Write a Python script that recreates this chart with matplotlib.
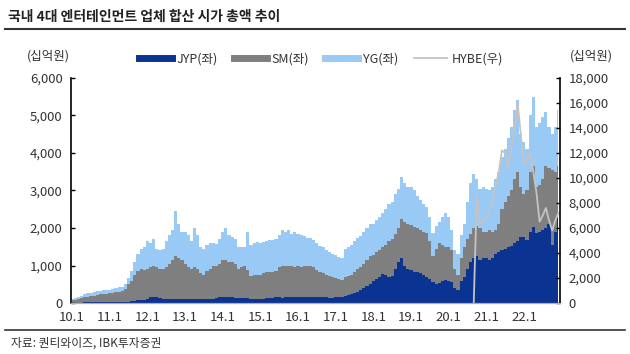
import numpy as np
import matplotlib
matplotlib.use('Agg')
import matplotlib.pyplot as plt
from matplotlib.lines import Line2D

plt.rcParams['font.family'] = ['Noto Sans CJK KR', 'DejaVu Sans']

# monthly market cap (십억원), Jan 2010 .. Dec 2022
jyp = [
    10, 10, 10, 10, 15, 15, 15, 15, 20, 20, 20, 20,
    25, 25, 30, 30, 30, 35, 40, 50, 60, 70, 80, 90,
    120, 150, 170, 150, 130, 120, 120, 110, 110, 120, 120, 120,
    110, 110, 110, 100, 100, 100, 100, 100, 110, 120, 140, 150,
    150, 160, 150, 150, 140, 140, 140, 130, 130, 120, 120, 120,
    120, 120, 130, 130, 140, 150, 150, 140, 150, 160, 170, 170,
    170, 160, 150, 150, 150, 150, 160, 160, 150, 150, 140, 140,
    150, 160, 170, 190, 210, 240, 270, 300, 350, 400, 450, 500,
    600, 650, 700, 780, 750, 700, 720, 900, 1100, 1200, 1000, 900,
    880, 840, 820, 790, 740, 700, 650, 550, 520, 540, 580, 610,
    600, 560, 400, 350, 600, 700, 900, 1100, 1200, 1250, 1150, 1200,
    1200, 1150, 1200, 1300, 1350, 1410, 1450, 1500, 1520, 1590, 1650, 1750,
    1750, 1680, 1900, 2030, 1860, 1900, 1950, 2000, 2100, 1550, 1900, 2300,
]
sm = [
    70, 80, 100, 120, 135, 155, 165, 185, 190, 210, 220, 230,
    245, 255, 260, 270, 290, 345, 460, 550, 690, 780, 820, 790,
    780, 800, 810, 800, 790, 780, 830, 940, 1040, 1130, 1080, 1030,
    940, 840, 810, 860, 800, 700, 660, 750, 810, 880, 860, 900,
    1000, 990, 950, 950, 910, 780, 810, 870, 750, 600, 620, 630,
    640, 680, 690, 690, 690, 700, 800, 860, 830, 840, 810, 800,
    810, 810, 830, 850, 830, 800, 720, 660, 640, 610, 580, 560,
    530, 480, 450, 510, 510, 520, 560, 600, 620, 650, 700, 750,
    680, 700, 700, 720, 800, 950, 980, 950, 900, 1050, 1150, 1200,
    1200, 1190, 1180, 1160, 1160, 1160, 1000, 700, 930, 1060, 970, 890,
    880, 840, 500, 400, 600, 800, 800, 750, 800, 800, 850, 680,
    700, 800, 700, 650, 750, 1090, 1250, 1350, 1480, 1710, 1850, 1350,
    1150, 1320, 1600, 1620, 1240, 1250, 1350, 1650, 1500, 2000, 1600, 1350,
]
yg = [
    30, 40, 60, 70, 80, 90, 100, 100, 100, 100, 100, 100,
    90, 100, 110, 120, 100, 120, 180, 250, 350, 450, 550, 620,
    750, 650, 720, 500, 480, 550, 700, 750, 800, 1200, 900, 750,
    850, 850, 730, 1040, 900, 700, 690, 700, 680, 600, 580, 650,
    750, 850, 700, 650, 650, 580, 550, 500, 1020, 830, 860, 870,
    840, 820, 830, 860, 850, 850, 850, 950, 920, 950, 870, 910,
    870, 850, 800, 730, 740, 730, 720, 700, 690, 660, 630, 600,
    600, 580, 580, 750, 780, 790, 820, 820, 810, 850, 850, 850,
    820, 850, 900, 900, 950, 1000, 1000, 1050, 1050, 1100, 1050, 1000,
    1020, 970, 850, 800, 750, 710, 650, 610, 600, 550, 750, 900,
    820, 550, 500, 550, 600, 600, 1000, 1350, 1450, 1250, 1050, 1220,
    1150, 1050, 1200, 1350, 1400, 1400, 1400, 1550, 1700, 1850, 1900, 1400,
    1400, 1100, 1500, 1850, 1600, 1650, 1650, 1450, 1100, 950, 1200, 1500,
]
# HYBE from Sep 2020 (unlisted = 0) to Dec 2022
hybe = [0, 8600, 6300, 6500,
        6800, 7400, 8200, 9400, 10500, 12200, 12000, 10800, 12500, 14000, 16000, 13500,
        11000, 11500, 12000, 10500, 8800, 6500, 7000, 7600, 6600, 5800, 6600, 7200]

years = list(range(2010, 2023))
xlabels = [f'{y % 100}.1' for y in years]

t = 2010 + np.arange(len(jyp)) / 12
t_hybe = t[-len(hybe):]

c_jyp, c_sm, c_yg, c_hybe = '#0B3391', '#7F7F7F', '#99C9F5', '#C4C4C4'

fig = plt.figure(figsize=(6.3, 3.54), dpi=100)
ax = fig.add_axes([0.1127, 0.144, 0.7763, 0.636])

base1 = np.array(jyp)
base2 = base1 + np.array(sm)
base3 = base2 + np.array(yg)
ax.fill_between(t, 0, base1, step='mid', color=c_jyp, lw=0)
ax.fill_between(t, base1, base2, step='mid', color=c_sm, lw=0)
ax.fill_between(t, base2, base3, step='mid', color=c_yg, lw=0)

ax.set_xlim(2010 - 0.03, 2022.96)
ax.set_ylim(0, 6000)
ax.set_yticks(range(0, 6001, 1000))
ax.set_yticklabels([f'{v:,}' for v in range(0, 6001, 1000)])
ax.set_xticks(years)
ax.set_xticklabels(xlabels)

ax2 = ax.twinx()
ax2.plot(t_hybe, hybe, color=c_hybe, lw=1.3)
ax2.set_ylim(0, 18000)
ax2.set_yticks(range(0, 18001, 2000))
ax2.set_yticklabels([f'{v:,}' for v in range(0, 18001, 2000)])

for a in (ax, ax2):
    a.spines['top'].set_visible(False)
    a.spines['bottom'].set_color('#B0B0B0')
    a.spines['left'].set_linewidth(1.2)
    a.spines['right'].set_linewidth(1.2)
    a.tick_params(axis='y', direction='in', length=3, width=1, labelsize=9.5,
                  labelcolor='#333333', pad=6)
ax.tick_params(axis='x', length=0, labelsize=9.5, labelcolor='#333333', pad=6)
ax2.spines['left'].set_visible(False)
ax.spines['right'].set_visible(False)

# legend
handles = [Line2D([], [], color=c_jyp, lw=5),
           Line2D([], [], color=c_sm, lw=5),
           Line2D([], [], color=c_yg, lw=5),
           Line2D([], [], color=c_hybe, lw=1.3)]
labels = ['JYP(좌)', 'SM(좌)', 'YG(좌)', 'HYBE(우)']
fig.legend(handles, labels, loc='center', bbox_to_anchor=(0.51, 0.833), ncol=4,
           frameon=False, fontsize=9, handlelength=2.6, handletextpad=0.4,
           columnspacing=1.3, labelcolor='#333333')

fig.text(0.077, 0.842, '(십억원)', fontsize=9, color='#333333', ha='center', va='center')
fig.text(0.938, 0.842, '(십억원)', fontsize=9, color='#333333', ha='center', va='center')

# title and frame lines
fig.text(0.013, 0.951, '국내 4대 엔터테인먼트 업체 합산 시가 총액 추이', fontsize=10,
         fontweight='bold', color='#222222', ha='left', va='center')
fig.add_artist(Line2D([0.008, 0.992], [0.918, 0.918], color='#333333', lw=1.5))
fig.add_artist(Line2D([0.008, 0.992], [0.068, 0.068], color='#333333', lw=1.2))
fig.text(0.018, 0.031, '자료: 퀀티와이즈, IBK투자증권', fontsize=8.5, color='#333333',
         ha='left', va='center')

fig.savefig('out.png', dpi=100)
